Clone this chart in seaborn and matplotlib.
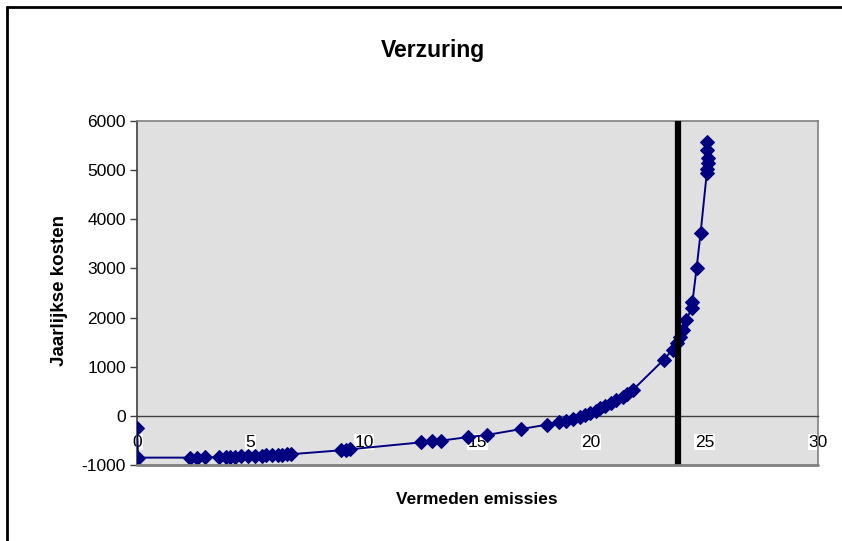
import numpy as np
import pandas as pd
import matplotlib
matplotlib.use('Agg')
import matplotlib.pyplot as plt
import seaborn as sns
from matplotlib.lines import Line2D

sns.set_style('white')
plt.rcParams['font.family'] = ['Liberation Sans', 'DejaVu Sans']
plt.rcParams['axes.unicode_minus'] = False
plt.rcParams['text.color'] = 'black'
plt.rcParams['xtick.labelcolor'] = 'black'
plt.rcParams['ytick.labelcolor'] = 'black'

# vermeden emissies vs jaarlijkse kosten
emissies = [0.0, 0.05, 2.35, 2.65, 3.0, 3.6, 3.9, 4.1, 4.3, 4.6, 4.9, 5.2, 5.5,
            5.7, 5.95, 6.2, 6.4, 6.6, 6.8, 9.0, 9.2, 9.4, 12.5, 13.0, 13.4,
            14.6, 15.4, 16.9, 18.05, 18.6, 18.9, 19.2, 19.5, 19.75, 19.95,
            20.2, 20.4, 20.6, 20.9, 21.1, 21.4, 21.6, 21.85, 23.2, 23.6,
            23.77, 23.9, 24.07, 24.2, 24.43, 24.47, 24.65, 24.83, 25.1, 25.12,
            25.14, 25.15, 25.13, 25.1]
kosten = [-250, -850, -850, -850, -845, -840, -835, -830, -828, -825, -820, -815,
          -810, -805, -800, -795, -790, -785, -780, -700, -690, -680, -540, -520,
          -505, -430, -390, -270, -180, -130, -100, -60, -20, 20, 50,
          100, 150, 200, 260, 320, 390, 450, 530, 1140, 1350,
          1480, 1610, 1750, 1950, 2190, 2320, 3000, 3730, 4940, 5020,
          5140, 5240, 5400, 5580]
grens = 23.85
x_ticks = [0, 5, 10, 15, 20, 25, 30]
y_ticks = [-1000, 0, 1000, 2000, 3000, 4000, 5000, 6000]

df = pd.DataFrame({'emissies': emissies, 'kosten': kosten})

fig = plt.figure(figsize=(8.42, 5.41), dpi=100)
ax = fig.add_axes([137/842, 1-465/541, (818-137)/842, (465-121)/541])
ax.set_facecolor('#e0e0e0')

sns.lineplot(data=df, x='emissies', y='kosten', ax=ax, sort=False, estimator=None,
             color='#000080', lw=1.4, marker='D', markersize=7.5,
             markeredgecolor='#000080', zorder=3)
ax.axvline(grens, color='black', lw=4.5, zorder=4, solid_capstyle='round')

ax.set_xlim(0, 30)
ax.set_ylim(-1000, 6000)
ax.set_xticks(x_ticks)
ax.set_yticks(y_ticks)
ax.set_xlabel('')
ax.set_ylabel('')

for s in ['top', 'right', 'left']:
    ax.spines[s].set_color('#808080')
    ax.spines[s].set_linewidth(1.2)
ax.spines['left'].set_color('#404040')
ax.spines['bottom'].set_position(('data', 0))
ax.spines['bottom'].set_color('#404040')
ax.spines['bottom'].set_linewidth(1)
# bottom edge of plot area
ax.axhline(-1000, color='#808080', lw=2, zorder=5, clip_on=False)

ax.tick_params(axis='x', direction='inout', length=7, width=1, color='#404040',
               labelsize=12.5, pad=10)
ax.tick_params(axis='y', direction='out', length=5, width=1, color='#404040',
               labelsize=12.5, pad=3, left=True)
for lab in ax.get_xticklabels():
    lab.set_bbox(dict(facecolor='white', edgecolor='none', pad=0.5))
    lab.set_zorder(6)

fig.text(433/842, 1-50/541, 'Verzuring', ha='center', va='center',
         fontsize=16.5, fontweight='bold')
fig.text(477/842, 1-499/541, 'Vermeden emissies', ha='center', va='center',
         fontsize=12.5, fontweight='bold')
fig.text(60/842, 1-291/541, 'Jaarlijkse kosten', ha='center', va='center',
         fontsize=13.5, fontweight='bold', rotation=90)

# chart frame (top and left edge)
fig.add_artist(Line2D([7/842, 1.0], [1-7/541, 1-7/541], color='black', lw=2))
fig.add_artist(Line2D([7/842, 7/842], [0, 1-7/541], color='black', lw=2))

fig.savefig('out.png', dpi=100)
